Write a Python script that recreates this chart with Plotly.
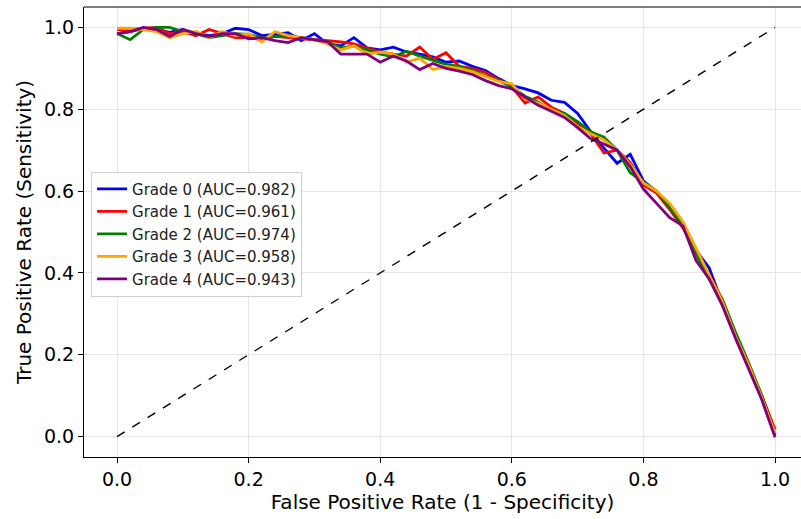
import plotly.graph_objects as go

# False positive rate grid shared by all curves
fpr = [round(i * 0.02, 2) for i in range(51)]

grade_names = ["Grade 0", "Grade 1", "Grade 2", "Grade 3", "Grade 4"]
grade_auc = [0.982, 0.961, 0.974, 0.958, 0.943]
grade_colors = ["#0000ff", "#ff0000", "#008000", "#ffa500", "#800080"]

tpr_grade0 = [
    0.985, 0.990, 0.998, 0.995, 0.988, 0.995, 0.985, 0.980, 0.985, 0.998,
    0.995, 0.980, 0.983, 0.987, 0.968, 0.985, 0.960, 0.955, 0.975, 0.950,
    0.945, 0.952, 0.940, 0.935, 0.928, 0.915, 0.918, 0.905, 0.895, 0.875,
    0.858, 0.850, 0.840, 0.822, 0.817, 0.790, 0.745, 0.705, 0.668, 0.690,
    0.625, 0.598, 0.560, 0.515, 0.455, 0.412, 0.325, 0.245, 0.170, 0.092,
    0.003,
]
tpr_grade1 = [
    0.995, 0.995, 0.998, 1.000, 0.985, 0.990, 0.980, 0.995, 0.985, 0.975,
    0.975, 0.970, 0.978, 0.975, 0.972, 0.970, 0.968, 0.965, 0.960, 0.950,
    0.940, 0.935, 0.930, 0.952, 0.922, 0.938, 0.905, 0.900, 0.890, 0.872,
    0.855, 0.815, 0.830, 0.805, 0.790, 0.765, 0.740, 0.693, 0.700, 0.670,
    0.615, 0.595, 0.555, 0.510, 0.450, 0.395, 0.335, 0.250, 0.175, 0.100,
    0.017,
]
tpr_grade2 = [
    0.985, 0.970, 0.995, 1.000, 1.000, 0.990, 0.985, 0.975, 0.980, 0.985,
    0.983, 0.975, 0.978, 0.980, 0.975, 0.970, 0.965, 0.950, 0.955, 0.945,
    0.935, 0.928, 0.942, 0.930, 0.920, 0.910, 0.905, 0.895, 0.882, 0.870,
    0.855, 0.832, 0.818, 0.797, 0.790, 0.770, 0.745, 0.732, 0.700, 0.645,
    0.622, 0.600, 0.560, 0.515, 0.445, 0.385, 0.335, 0.255, 0.180, 0.100,
    0.005,
]
tpr_grade3 = [
    0.998, 0.998, 0.995, 0.990, 0.975, 0.985, 0.990, 0.975, 0.990, 0.980,
    0.985, 0.965, 0.990, 0.980, 0.975, 0.970, 0.960, 0.945, 0.955, 0.935,
    0.940, 0.935, 0.915, 0.925, 0.897, 0.905, 0.900, 0.892, 0.880, 0.868,
    0.862, 0.825, 0.815, 0.800, 0.785, 0.758, 0.740, 0.725, 0.700, 0.665,
    0.620, 0.600, 0.570, 0.525, 0.460, 0.395, 0.330, 0.245, 0.175, 0.095,
    0.008,
]
tpr_grade4 = [
    0.985, 0.990, 1.000, 0.995, 0.978, 0.995, 0.985, 0.978, 0.985, 0.985,
    0.972, 0.975, 0.968, 0.963, 0.975, 0.970, 0.965, 0.935, 0.935, 0.935,
    0.915, 0.930, 0.918, 0.897, 0.912, 0.900, 0.893, 0.885, 0.870, 0.858,
    0.850, 0.830, 0.810, 0.795, 0.780, 0.755, 0.728, 0.715, 0.700, 0.660,
    0.605, 0.570, 0.535, 0.515, 0.430, 0.385, 0.320, 0.240, 0.165, 0.090,
    -0.002,
]
tpr_all = [tpr_grade0, tpr_grade1, tpr_grade2, tpr_grade3, tpr_grade4]

chance_line = [0, 1]

font_family = "DejaVu Sans, Arial, sans-serif"

traces = []
for name, auc, color, tpr in zip(grade_names, grade_auc, grade_colors, tpr_all):
    traces.append(
        go.Scatter(
            x=fpr,
            y=tpr,
            mode="lines",
            name=f"{name} (AUC={auc:.3f})",
            line=dict(color=color, width=2.8),
        )
    )

traces.append(
    go.Scatter(
        x=chance_line,
        y=chance_line,
        mode="lines",
        line=dict(color="black", width=1.4, dash="dash"),
        showlegend=False,
    )
)

fig = go.Figure(traces)

axis_common = dict(
    showgrid=True,
    gridcolor="#e6e6e6",
    gridwidth=1,
    zeroline=False,
    showline=True,
    linecolor="black",
    linewidth=1.2,
    ticks="outside",
    ticklen=5,
    tickcolor="black",
    tickfont=dict(size=19, color="black", family=font_family),
    dtick=0.2,
    tickformat=".1f",
    automargin=False,
)

fig.update_layout(
    width=801,
    height=519,
    paper_bgcolor="white",
    plot_bgcolor="white",
    margin=dict(l=84, r=0, t=7, b=62),
    font=dict(family=font_family, color="black"),
    legend=dict(
        x=0.0098,
        y=0.634,
        xanchor="left",
        yanchor="top",
        bgcolor="rgba(255,255,255,0.85)",
        bordercolor="#d0d0d0",
        borderwidth=1,
        font=dict(size=15, family=font_family, color="#222"),
        itemwidth=30,
        tracegroupgap=0,
    ),
)
fig.update_xaxes(
    axis_common,
    range=[-0.0502, 1.0395],
    mirror=False,
    title=dict(text="False Positive Rate (1 - Specificity)", font=dict(size=20), standoff=4),
)
fig.update_yaxes(
    axis_common,
    range=[-0.05, 1.05],
    title=dict(text="True Positive Rate (Sensitivity)", font=dict(size=20), standoff=6),
)
# top frame line (the right spine falls outside the cropped picture)
fig.add_shape(
    type="line", xref="paper", yref="paper", x0=0, x1=1, y0=1, y1=1,
    line=dict(color="black", width=1.2),
)

fig.write_html(
    "out.html",
    config={"displayModeBar": False},
    post_script="document.body.style.margin='0';document.body.style.overflow='hidden';",
)
